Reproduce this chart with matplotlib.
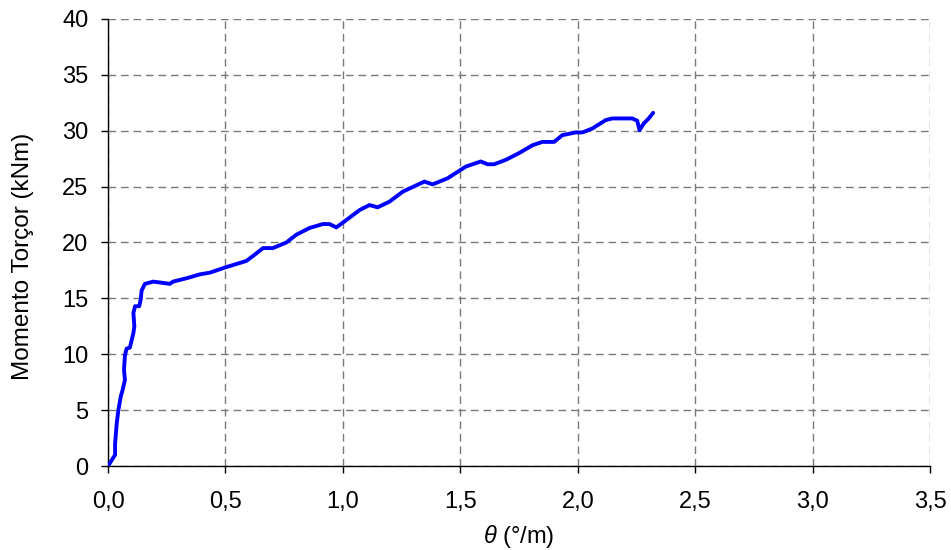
import matplotlib
matplotlib.use("Agg")
import matplotlib.pyplot as plt

# Torque vs. twist readings
theta = [0.0, 0.03, 0.03, 0.037, 0.044, 0.054, 0.062, 0.072, 0.068, 0.072, 0.079, 0.093,
         0.108, 0.112, 0.108, 0.115, 0.133, 0.139, 0.143, 0.157, 0.193, 0.228, 0.263, 0.277,
         0.334, 0.391, 0.433, 0.504, 0.589, 0.624, 0.66, 0.702, 0.759, 0.802, 0.858, 0.915,
         0.943, 0.972, 1.014, 1.071, 1.113, 1.148, 1.198, 1.255, 1.311, 1.347, 1.382, 1.446,
         1.524, 1.587, 1.616, 1.644, 1.694, 1.75, 1.807, 1.849, 1.899, 1.934, 1.991, 2.02,
         2.062, 2.119, 2.147, 2.232, 2.253, 2.263, 2.281, 2.302, 2.321]
torque = [0.0, 1.0, 2.0, 3.8, 5.0, 6.2, 6.8, 7.7, 8.6, 9.9, 10.5, 10.6,
          11.9, 12.5, 13.7, 14.3, 14.3, 14.9, 15.7, 16.3, 16.5, 16.4, 16.3, 16.5,
          16.8, 17.15, 17.3, 17.8, 18.35, 18.9, 19.5, 19.5, 20.0, 20.7, 21.3, 21.65,
          21.65, 21.35, 22.0, 22.9, 23.35, 23.15, 23.65, 24.55, 25.1, 25.45, 25.2, 25.75,
          26.8, 27.25, 27.0, 27.0, 27.4, 28.0, 28.7, 29.0, 29.0, 29.6, 29.85, 29.85,
          30.2, 30.95, 31.1, 31.1, 30.9, 30.05, 30.65, 31.1, 31.6]

x_ticks = [0.0, 0.5, 1.0, 1.5, 2.0, 2.5, 3.0, 3.5]
y_ticks = [0, 5, 10, 15, 20, 25, 30, 35, 40]

plt.rcParams['font.family'] = ['Liberation Sans', 'DejaVu Sans']
plt.rcParams['mathtext.fontset'] = 'custom'
plt.rcParams['mathtext.it'] = 'Liberation Sans:italic'
plt.rcParams['mathtext.rm'] = 'Liberation Sans'

fig = plt.figure(figsize=(9.51, 5.5), dpi=100)
ax = fig.add_axes([0.1136, 0.1527, 0.8644, 0.8128])

ax.plot(theta, torque, color='#0000ff', linewidth=2.8, solid_joinstyle='round',
        solid_capstyle='round', zorder=3)

ax.set_xlim(0, 3.5)
ax.set_ylim(0, 40)
ax.set_xticks(x_ticks)
ax.set_xticklabels([f"{v:.1f}".replace('.', ',') for v in x_ticks])
ax.set_yticks(y_ticks)
ax.grid(True, color='#7a7a7a', linestyle=(0, (5.5, 3.5)), linewidth=1.0)
ax.set_axisbelow(True)

for side in ['top', 'right']:
    ax.spines[side].set_visible(False)
for side in ['left', 'bottom']:
    ax.spines[side].set_linewidth(1.0)
    ax.spines[side].set_color('black')

ax.tick_params(axis='x', direction='out', length=5, width=1, pad=13, labelsize=17)
ax.tick_params(axis='y', direction='out', length=5, width=1, pad=9, labelsize=17)

ax.set_xlabel(r'$\theta$ (°/m)', fontsize=17, labelpad=7)
ax.set_ylabel('Momento Torçor (kNm)', fontsize=17.5)
ax.yaxis.set_label_coords(-0.09, 0.47)

fig.savefig('out.png', dpi=100)
